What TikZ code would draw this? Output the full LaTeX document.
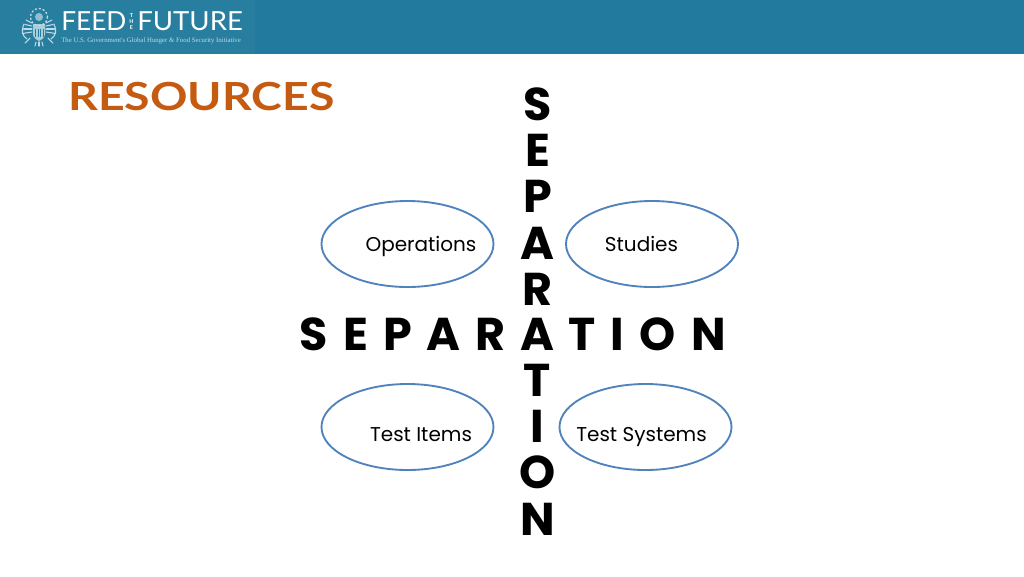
\documentclass[tikz,border=0pt]{standalone}
\usepackage{fontspec}
\setmainfont{Lato}
\newfontfamily\pop{Poppins}
\newfontfamily\serifx{Liberation Serif}
\definecolor{hdr}{HTML}{227A9E}
\definecolor{logo}{HTML}{287E9F}
\definecolor{pale}{HTML}{BFDCE6}
\definecolor{ora}{HTML}{C55A11}
\definecolor{ell}{HTML}{5083BC}
\usetikzlibrary{shapes.geometric}
\tikzset{
 bigl/.style={font=\pop\bfseries\fontsize{34.5}{34.5}\selectfont,text=black,inner sep=0pt,anchor=base},
 oval/.style={draw=ell,line width=1.4pt,ellipse,minimum width=129pt,minimum height=64.5pt,inner sep=0pt},
 lab/.style={font=\pop\fontsize{15}{15}\selectfont,text=black,inner sep=0pt,anchor=base},
 seal/.style={draw=pale,line width=0.8pt,line cap=round},
}
\begin{document}
\begin{tikzpicture}[x=0.75pt,y=-0.75pt]
\useasboundingbox (0,0) rectangle (1024,576);
\fill[white] (0,0) rectangle (1024,576);
\fill[hdr] (0,0) rectangle (1024,53.5);
\fill[logo] (0,0) rectangle (255,53.5);
% seal
\draw[seal,line width=1pt,dotted] (39,17) circle (8.5);
\fill[pale,opacity=.7] (39,17) circle (4);
\foreach \dy in {0,3,6,9}{
  \draw[seal] (32,23+\dy) -- (26-\dy*.4,20+\dy*1.5);
  \draw[seal] (46,23+\dy) -- (52+\dy*.4,20+\dy*1.5);
}
\draw[seal] (24,24) .. controls (21,30) and (22,36) .. (27,39);
\draw[seal] (54,24) .. controls (57,30) and (56,36) .. (51,39);
\fill[pale,opacity=.85] (33,24) -- (45,24) -- (45,34) .. controls (45,38) and (41,40) .. (39,41) .. controls (37,40) and (33,38) .. (33,34) -- cycle;
\foreach \i in {35,37.5,40,42.5}{\fill[logo] (\i,29) rectangle ++(1,8);}
\draw[seal] (36,42) -- (35,46);\draw[seal] (39,42) -- (39,46);\draw[seal] (42,42) -- (43,46);
\draw[seal] (30,38) -- (25,43);\draw[seal] (48,38) -- (53,43);
\node[anchor=base west,font=\fontsize{19.7}{19.7}\selectfont,text=white,inner sep=0pt] (feed) at (61,30) {FEED};
\node[anchor=center,font=\fontsize{4}{4.4}\selectfont\bfseries,text=white,inner sep=0pt,align=center] (the) at (131.5,21.5) {T\\H\\E};
\node[anchor=base west,font=\fontsize{19.7}{19.7}\selectfont,text=white,inner sep=0pt] (future) at (137,30) {\scalebox{1.05}[1]{FUTURE}};
\node[anchor=base west,font=\serifx\fontsize{5.1}{5}\selectfont,text=pale,inner sep=0pt] (tag) at (61,42) {The U.S. Government's Global Hunger \& Food Security Initiative};
\node[anchor=base west,font=\bfseries\fontsize{29}{29}\selectfont,text=ora,inner sep=0pt] (title) at (68,110) {\scalebox{1.2}[1]{RESOURCES}};
\node[oval] (op) at (407.5,244) {};
\node[oval] (st) at (652,244) {};
\node[oval] (ti) at (407.5,427) {};
\node[oval] (ts) at (645.5,427) {};
\node[lab] (t1) at (421,251.5) {Operations};
\node[lab] (t2) at (641.5,251.5) {Studies};
\node[lab] (t3) at (421,441.5) {Test Items};
\node[lab] (t4) at (641.5,441.5) {Test Systems};
\foreach \n/\c/\x in {a/S/314,b/E/356,c/P/397.5,d/A/443.5,e/R/490.5,f/A/537.5,g/T/582.5,h/I/617.5,i/O/657.5,j/N/708.5}
  \node[bigl] (h\n) at (\x,350) {\c};
\foreach \n/\c/\y in {a/S/120,b/E/166,c/P/212,d/A/259,e/R/305,g/T/396,h/I/442,i/O/488,j/N/535}
  \node[bigl] (v\n) at (537.5,\y) {\c};
\end{tikzpicture}
\end{document}
